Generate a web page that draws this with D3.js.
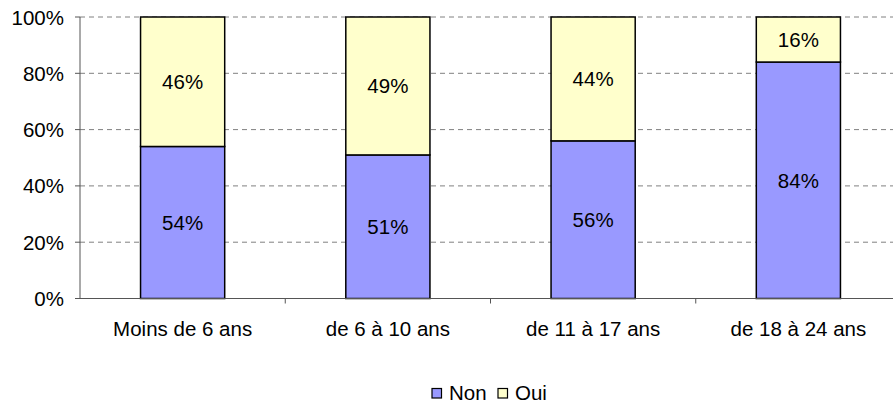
<!DOCTYPE html>
<html>
<head>
<meta charset="utf-8">
<script src="https://cdn.jsdelivr.net/npm/d3@7"></script>
<style>
  body { margin: 0; background: #fff; }
  text { font-family: "Liberation Sans", Arial, sans-serif; font-size: 20.5px; fill: #000; }
</style>
</head>
<body>
<svg id="chart" width="893" height="405"></svg>
<script>
const categories = ["Moins de 6 ans", "de 6 à 10 ans", "de 11 à 17 ans", "de 18 à 24 ans"];
const nonValues = [54, 51, 56, 84];
const ouiValues = [46, 49, 44, 16];
const seriesNames = ["Non", "Oui"];
const seriesColors = ["#9999FF", "#FFFFCC"];
const yTicks = [0, 20, 40, 60, 80, 100];

const svg = d3.select("#chart");

const xScale = d3.scaleBand().domain(categories).range([80, 901]).padding(0);
const yScale = d3.scaleLinear().domain([0, 100]).range([298.5, 17]);
const barWidth = xScale.bandwidth() * 0.41;

// dashed gridlines
svg.selectAll(".grid")
    .data(yTicks.filter(d => d > 0))
    .enter().append("line")
    .attr("x1", 80).attr("x2", 893)
    .attr("y1", d => yScale(d)).attr("y2", d => yScale(d))
    .attr("stroke", "#808080")
    .attr("stroke-dasharray", "5,4");

// stacked bars
const rows = categories.map((c, i) => ({ cat: c, Non: nonValues[i], Oui: ouiValues[i] }));
const stack = d3.stack().keys(seriesNames)(rows);

stack.forEach((layer, k) => {
    svg.selectAll(".bar" + k)
        .data(layer)
        .enter().append("rect")
        .attr("x", d => xScale(d.data.cat) + (xScale.bandwidth() - barWidth) / 2)
        .attr("y", d => yScale(d[1]))
        .attr("width", barWidth)
        .attr("height", d => yScale(d[0]) - yScale(d[1]))
        .attr("fill", seriesColors[k])
        .attr("stroke", "#000")
        .attr("stroke-width", 1.5);

    svg.selectAll(".lab" + k)
        .data(layer)
        .enter().append("text")
        .attr("text-anchor", "middle")
        .attr("dominant-baseline", "central")
        .attr("x", d => xScale(d.data.cat) + xScale.bandwidth() / 2)
        .attr("y", d => (yScale(d[0]) + yScale(d[1])) / 2)
        .text(d => (d[1] - d[0]) + "%");
});

// y axis
svg.append("line")
    .attr("x1", 80).attr("x2", 80)
    .attr("y1", yScale(100)).attr("y2", yScale(0))
    .attr("stroke", "#555");
svg.selectAll(".ytick")
    .data(yTicks)
    .enter().append("line")
    .attr("x1", 75).attr("x2", 80)
    .attr("y1", d => yScale(d)).attr("y2", d => yScale(d))
    .attr("stroke", "#555");
svg.selectAll(".ylab")
    .data(yTicks)
    .enter().append("text")
    .attr("text-anchor", "end")
    .attr("dominant-baseline", "central")
    .attr("x", 64)
    .attr("y", d => yScale(d))
    .text(d => d + "%");

// x axis
svg.append("line")
    .attr("x1", 80).attr("x2", 893)
    .attr("y1", yScale(0)).attr("y2", yScale(0))
    .attr("stroke", "#555");
svg.selectAll(".xtick")
    .data(categories.slice(1))
    .enter().append("line")
    .attr("x1", d => xScale(d)).attr("x2", d => xScale(d))
    .attr("y1", yScale(0)).attr("y2", yScale(0) + 5)
    .attr("stroke", "#555");
svg.selectAll(".xlab")
    .data(categories)
    .enter().append("text")
    .attr("text-anchor", "middle")
    .attr("dominant-baseline", "central")
    .attr("x", d => xScale(d) + xScale.bandwidth() / 2)
    .attr("y", 328)
    .text(d => d);

// legend
const legendX = [432, 498];
seriesNames.forEach((name, k) => {
    svg.append("rect")
        .attr("x", legendX[k]).attr("y", 388.5)
        .attr("width", 9.5).attr("height", 9.5)
        .attr("fill", seriesColors[k])
        .attr("stroke", "#000").attr("stroke-width", 1.2);
    svg.append("text")
        .attr("dominant-baseline", "central")
        .attr("x", legendX[k] + 17)
        .attr("y", 392)
        .text(name);
});
</script>
</body>
</html>
